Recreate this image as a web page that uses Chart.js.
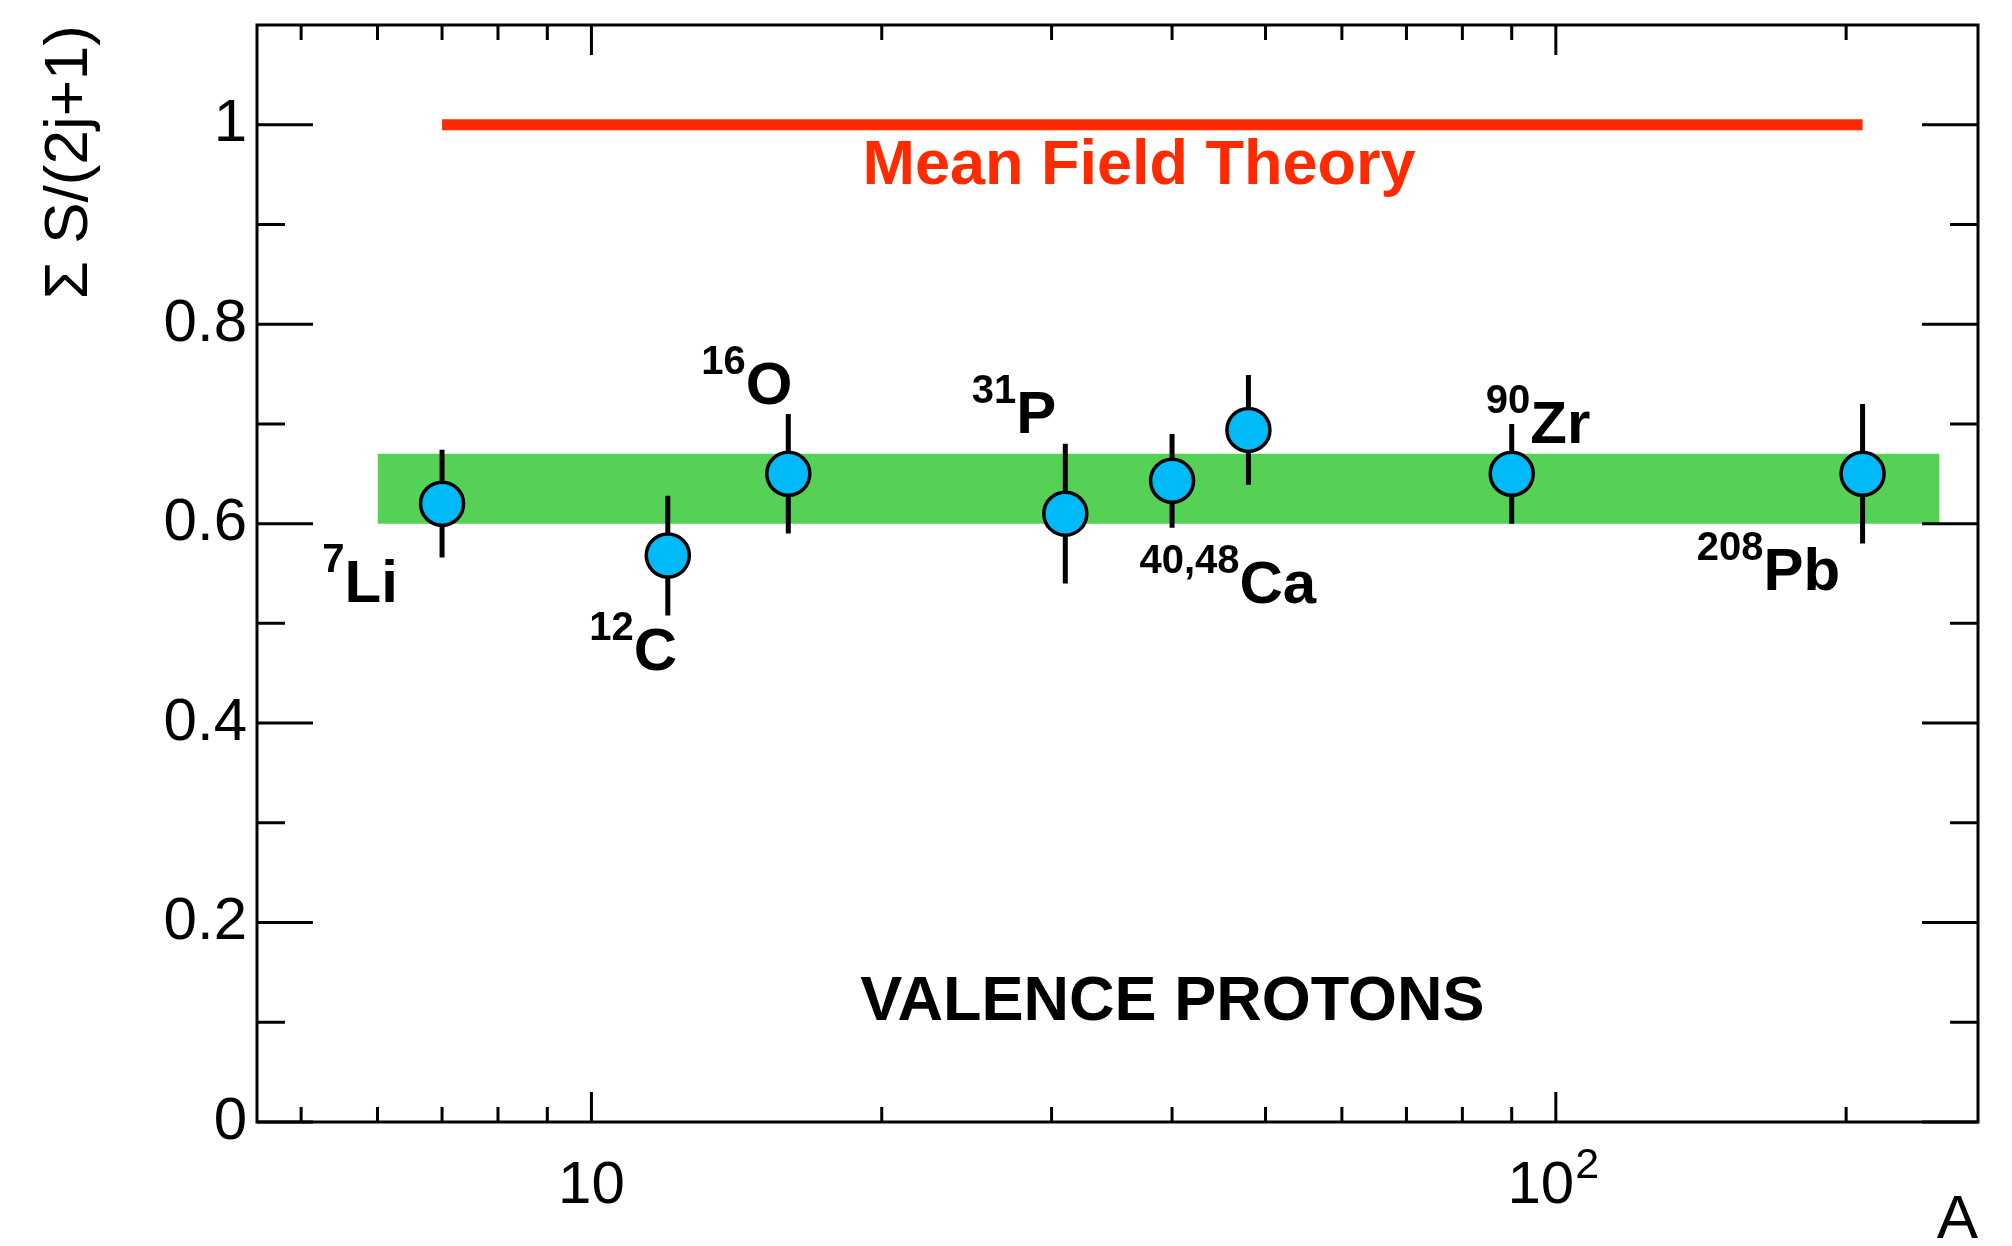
<!DOCTYPE html>
<html>
<head>
<meta charset="utf-8">
<script src="https://cdn.jsdelivr.net/npm/chart.js@4.4.1/dist/chart.umd.min.js"></script>
<style>
  body { margin: 0; background: #fff; }
</style>
</head>
<body>
<canvas id="sf" width="2012" height="1246"></canvas>
<script>
// mass number and summed spectroscopic factor of each measured state
const massA = [7, 12, 16, 31, 40, 48, 90, 208];
const sfVal = [0.620, 0.568, 0.650, 0.610, 0.643, 0.694, 0.650, 0.650];
const sfErr = [0.054, 0.060, 0.060, 0.070, 0.047, 0.055, 0.050, 0.070];

// quenched band and mean field value
const bandA = [6, 250];
const bandLow = 0.60;
const bandHigh = 0.67;
const mfA = [7, 208];
const mfVal = 1.0;

// axis ticks
const xLabelTicks = [10, 100];
const xTickLabels = ['10', '10'];
const xTickExp = ['', '2'];
const xMinorTicks = [5, 6, 7, 8, 9, 20, 30, 40, 50, 60, 70, 80, 90, 200];
const yLabelTicks = [0, 0.2, 0.4, 0.6, 0.8, 1];
const yMinorTicks = [0.1, 0.3, 0.5, 0.7, 0.9];

// nucleus labels: superscript, symbol, anchor (A, value) of the baseline start
const labelSup = ['7', '12', '16', '31', '40,48', '90', '208'];
const labelName = ['Li', 'C', 'O', 'P', 'Ca', 'Zr', 'Pb'];
const labelAt = [[5.26, 0.521], [9.95, 0.453], [13.0, 0.720], [24.8, 0.691], [37.0, 0.520], [84.6, 0.681], [140, 0.533]];

const FONT = '"Liberation Sans", Arial, Helvetica, sans-serif';
const RED = '#ff2a00';

const errData = [];
massA.forEach((a, i) => {
  errData.push({x: a, y: sfVal[i] - sfErr[i]});
  errData.push({x: a, y: sfVal[i] + sfErr[i]});
  errData.push({x: a, y: null});
});

const drawExtras = {
  id: 'drawExtras',
  afterDatasetsDraw(chart) {
    const {ctx, chartArea: a, scales: {x, y}} = chart;
    ctx.save();

    // texts inside the frame
    ctx.textAlign = 'left';
    ctx.textBaseline = 'alphabetic';
    ctx.fillStyle = '#000';
    labelName.forEach((name, i) => {
      const px = x.getPixelForValue(labelAt[i][0]);
      const py = y.getPixelForValue(labelAt[i][1]);
      ctx.font = 'bold 40px ' + FONT;
      ctx.fillText(labelSup[i], px, py - 30);
      const w = ctx.measureText(labelSup[i]).width;
      ctx.font = 'bold 60px ' + FONT;
      ctx.fillText(name, px + w, py);
    });

    ctx.font = 'bold 63px ' + FONT;
    ctx.fillStyle = RED;
    ctx.fillText('Mean Field Theory', x.getPixelForValue(19.1), y.getPixelForValue(0.941));
    ctx.fillStyle = '#000';
    ctx.fillText('VALENCE PROTONS', x.getPixelForValue(19.0), y.getPixelForValue(0.102));

    // exponents of the x tick labels
    ctx.font = '43px ' + FONT;
    xLabelTicks.forEach((v, i) => {
      if (!xTickExp[i]) return;
      ctx.font = '60px ' + FONT;
      const base = ctx.measureText(xTickLabels[i]).width;
      const full = base + ctx.measureText('\u2002').width;
      ctx.font = '43px ' + FONT;
      ctx.fillText(xTickExp[i], x.getPixelForValue(v) - full / 2 + base + 1, a.bottom + 56);
    });

    // frame and inward ticks
    ctx.strokeStyle = '#000';
    ctx.lineWidth = 3;
    ctx.strokeRect(a.left, a.top, a.right - a.left, a.bottom - a.top);
    ctx.beginPath();
    const xt = (vals, len) => vals.forEach(v => {
      const px = x.getPixelForValue(v);
      ctx.moveTo(px, a.bottom); ctx.lineTo(px, a.bottom - len);
      ctx.moveTo(px, a.top); ctx.lineTo(px, a.top + len);
    });
    const yt = (vals, len) => vals.forEach(v => {
      const py = y.getPixelForValue(v);
      ctx.moveTo(a.left, py); ctx.lineTo(a.left + len, py);
      ctx.moveTo(a.right, py); ctx.lineTo(a.right - len, py);
    });
    xt(xLabelTicks, 30);
    xt(xMinorTicks, 15);
    yt(yLabelTicks, 56);
    yt(yMinorTicks, 28);
    ctx.stroke();
    ctx.restore();
  }
};

const sfConfig = {
  type: 'scatter',
  data: {
    datasets: [
      {
        label: 'data',
        data: massA.map((a, i) => ({x: a, y: sfVal[i]})),
        pointRadius: 21.5,
        pointBackgroundColor: '#00b9f7',
        pointBorderColor: '#000',
        pointBorderWidth: 3.5,
        order: 0,
      },
      {
        label: 'errors',
        data: errData,
        showLine: true,
        spanGaps: false,
        borderColor: '#000',
        borderWidth: 5,
        borderCapStyle: 'butt',
        pointRadius: 0,
        order: 1,
      },
      {
        label: 'Mean Field Theory',
        data: mfA.map(a => ({x: a, y: mfVal})),
        showLine: true,
        borderColor: RED,
        borderWidth: 11,
        borderCapStyle: 'butt',
        pointRadius: 0,
        order: 2,
      },
      {
        label: 'band',
        data: bandA.map(a => ({x: a, y: bandHigh})),
        showLine: true,
        borderWidth: 0,
        pointRadius: 0,
        backgroundColor: '#55d155',
        fill: {value: bandLow},
        order: 3,
      },
    ],
  },
  options: {
    responsive: false,
    animation: false,
    layout: { padding: {top: 23, right: 34, bottom: 0, left: 0} },
    plugins: {
      legend: { display: false },
      tooltip: { enabled: false },
    },
    scales: {
      x: {
        type: 'logarithmic',
        position: 'bottom',
        min: 4.5,
        max: 274,
        grid: { display: false, drawTicks: false },
        border: { display: false },
        afterBuildTicks: (s) => { s.ticks = xLabelTicks.map(v => ({value: v})); },
        afterFit: (s) => { s.height = 124; s.paddingLeft = 0; s.paddingRight = 0; },
        ticks: {
          autoSkip: false,
          maxRotation: 0,
          padding: 28,
          color: '#000',
          font: { family: FONT, size: 60 },
          callback: (v) => {
            const i = xLabelTicks.indexOf(v);
            return xTickLabels[i] + (xTickExp[i] ? '\u2002' : '');
          },
        },
        title: {
          display: true,
          text: 'A',
          align: 'end',
          color: '#000',
          padding: 0,
          font: { family: FONT, size: 62, lineHeight: 0.8 },
        },
      },
      y: {
        type: 'linear',
        position: 'left',
        min: 0,
        max: 1.1,
        grid: { display: false, drawTicks: false },
        border: { display: false },
        afterBuildTicks: (s) => { s.ticks = yLabelTicks.map(v => ({value: v})); },
        afterFit: (s) => { s.width = 257; s.paddingTop = 0; s.paddingBottom = 0; },
        ticks: {
          padding: 10,
          color: '#000',
          font: { family: FONT, size: 60 },
          callback: (v) => String(v),
        },
        title: {
          display: true,
          text: 'Σ S/(2j+1)',
          align: 'end',
          color: '#000',
          padding: {top: 33, bottom: 0},
          font: { family: FONT, size: 62 },
        },
      },
    },
  },
  plugins: [drawExtras],
};

const sfCtx = document.getElementById('sf');
window.sfChart = new Chart(sfCtx, sfConfig);
</script>
</body>
</html>
